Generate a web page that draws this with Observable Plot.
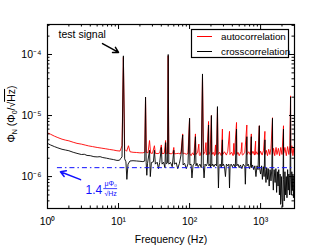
<!DOCTYPE html>
<html><head><meta charset="utf-8">
<script src="https://cdn.jsdelivr.net/npm/d3@7"></script>
<script src="https://cdn.jsdelivr.net/npm/@observablehq/plot@0.6"></script>
<style>
body{margin:0;background:#fff}
svg{font-family:"Liberation Sans",Arial,sans-serif}
</style>
</head><body><div id="chart"></div>
<script>
// [frequency Hz, noise in µΦ0/√Hz]
const autoSpectrum = [
[1,5.2],[1.1,4.95],[1.25,4.6],[1.4,4.35],[1.6,4.1],[1.8,3.95],[2,3.85],[2.3,3.65],[2.6,3.5],[3,3.4],[3.4,3.28],[3.8,3.18],[4.3,3.1],[5,3.0],[5.7,2.93],[6.5,2.86],[7.5,2.78],[8.5,2.72],[9.5,2.65],[10.5,2.62],[11.2,3.2],[11.7,90],[12.2,2.8],[13,2.6],[13.8,3.2],[14.5,2.55],[16,2.5],[18,2.48],[20,2.45],[22,2.45],[23.4,2.5],[24,20],[24.6,2.5],[26,2.45],[27.3,3.9],[28.3,2.42],[30,2.4],[32,3.2],[33,2.4],[36,2.38],[38,2.45],[40,3.3],[41,2.38],[44,2.4],[46,3.9],[47,2.36],[49,2.4],[50,95],[51,2.4],[55,2.36],[58,2.42],[60,3.0],[61,2.35],[65,2.38],[70,2.4],[74,2.34],[76,2.6],[80,5.0],[81,2.35],[85,2.4],[90,2.32],[95,2.4],[100,9],[101,2.35],
[105,2.2],[110,2.45],[115,2.25],[121,5.0],[123,2.3],[130,2.5],[135,3.4],[137,2.3],[140,2.2],[147,2.6],[152,45],[157,2.3],[165,2.55],[170,3.6],[172,2.3],[175,2.25],[185,8],[187,2.3],[195,2.6],[203,10],[206,2.3],[215,2.5],[225,2.2],[232,3.3],[234,2.3],[240,2.6],[247,13],[252,2.3],[265,2.5],[280,2.2],[290,6],[293,2.3],[310,2.55],[330,2.25],[345,2.6],[365,5.5],[370,2.3],[390,2.5],[410,2.2],[420,3.5],[423,2.3],[430,2.5],[458,7.7],[462,2.3],[480,2.5],[500,2.2],[530,2.55],[545,3.6],[548,2.3],[560,2.25],[600,2.5],[640,7],[645,2.3],[680,2.55],[720,2.25],[740,5],[745,2.3],[780,2.6],[820,2.25],[850,3.8],[853,2.3],[870,2.55],[920,2.3],[960,6.8],[965,2.3],[1000,2.6],[1050,2.25],[1100,2.7],[1150,5.5],[1155,2.3],[1200,2.7],[1250,2.2],[1300,2.8],[1350,2.3],[1400,2.9],[1470,9.2],[1475,2.3],[1520,2.9],[1580,2.2],[1650,3.0],[1700,2.3],[1780,2.9],[1850,2.2],[1920,3.0],[2000,2.3],[2100,6.8],[2110,2.4],[2200,3.0],[2300,2.2],[2400,3.1],[2500,2.3],[2580,3.2],[2640,21],[2660,2.4],[2750,3.2],[2850,2.2],[2950,3.0],[3000,2.4]
];
const crossSpectrum = [
[1,3.5],[1.1,3.3],[1.25,3.1],[1.4,2.95],[1.6,2.8],[1.8,2.72],[2,2.65],[2.3,2.5],[2.6,2.4],[3,2.3],[3.3,2.32],[3.6,2.22],[4,2.2],[4.5,2.12],[5,2.1],[5.5,2.12],[6,2.05],[6.8,2.0],[7.5,1.95],[8.5,1.9],[9.5,1.84],[10.3,1.85],[10.8,2.0],[11.2,2.1],[11.7,95],[12.2,1.95],[12.7,1.75],[13.1,0.9],[13.6,1.6],[14.5,1.8],[16,1.82],[18,1.8],[20,1.78],[22,1.76],[23.4,1.8],[24,20],[24.5,1.7],[25,1.05],[25.6,1.65],[27.3,2.7],[28,1.0],[29,1.7],[31,1.75],[32,2.7],[33,1.6],[35,1.72],[36.5,1.35],[38,1.7],[40,3.0],[41,1.6],[43,1.72],[45,1.4],[46,3.6],[47,1.62],[49,1.68],[50,100],[51,1.6],[54,1.7],[57,1.45],[60,2.7],[61,1.6],[65,1.68],[68,1.35],[72,1.65],[76,2.3],[80,4.8],[81,1.55],[85,1.65],[90,1.35],[95,1.62],[100,9],[101,1.55],
[105,1.6],[108,0.95],[112,1.55],[116,1.6],[121,4.5],[123,1.5],[127,1.65],[132,1.45],[140,1.6],[146,1.4],[152,48],[156,1.5],[160,0.95],[165,1.6],[172,1.5],[178,1.65],[185,7],[187,1.5],[193,1.6],[198,1.4],[203,10],[206,1.5],[212,1.6],[220,1.45],[230,1.6],[240,1.5],[247,14],[251,1.5],[255,0.65],[260,1.5],[270,1.6],[280,1.4],[290,4],[293,1.5],[300,1.6],[310,1.45],[320,1.0],[330,1.6],[345,1.5],[358,1.6],[365,0.65],[372,1.5],[385,1.6],[400,1.45],[420,1.6],[440,1.4],[458,6],[462,1.5],[480,1.6],[500,1.4],[520,1.55],[545,1.35],[570,1.6],[600,1.45],[610,0.75],[620,1.5],[640,4.5],[645,1.5],[670,1.6],[700,1.35],[720,1.5],[740,4.5],[745,1.4],[770,1.55],[800,1.3],[830,1.5],[860,1.0],[890,1.5],[920,1.3],[960,6.8],[965,1.4],[1000,1.1],[1030,1.5],[1060,0.9],[1090,1.45],[1120,1.0],[1150,4],[1160,1.3],[1190,0.8],[1220,1.4],[1250,0.9],[1280,1.35],[1320,0.7],[1360,1.3],[1400,0.85],[1440,1.4],[1470,9],[1480,1.1],[1510,0.6],[1550,1.3],[1600,0.8],[1640,1.35],[1680,0.55],[1720,1.2],[1760,0.7],[1800,1.3],[1840,0.5],[1880,1.1],[1920,0.35],[1960,1.0],[2000,0.45],[2050,0.32],[2100,6],[2110,0.9],[2150,0.4],[2200,1.2],[2250,0.5],[2300,1.0],[2350,0.45],[2400,1.3],[2450,0.6],[2500,1.1],[2550,0.5],[2600,1.2],[2640,20],[2660,0.9],[2700,0.5],[2750,1.2],[2800,0.6],[2850,1.1],[2900,0.45],[2950,1.0],[3000,0.7]
];
const noiseFloor = 1.4; // µΦ0/√Hz
const seriesNames = ["autocorrelation", "crosscorrelation"];
const seriesColors = ["#ff0000", "#000000"];
const xMajor = [1, 10, 100, 1000];
const xMajorLabels = ["10\u2070", "10\u00b9", "10\u00b2", "10\u00b3"];
const xMinor = [2,3,4,5,6,7,8,9,20,30,40,50,60,70,80,90,200,300,400,500,600,700,800,900,2000,3000];
const yMajor = [1e-6, 1e-5, 1e-4];
const yMajorLabels = ["10\u207b\u2076", "10\u207b\u2075", "10\u207b\u2074"];
const yMinor = [3e-7,4e-7,5e-7,6e-7,7e-7,8e-7,9e-7,2e-6,3e-6,4e-6,5e-6,6e-6,7e-6,8e-6,9e-6,2e-5,3e-5,4e-5,5e-5,6e-5,7e-5,8e-5,9e-5,2e-4,3e-4];
// annotations in data coordinates
const testSignalLabel = {text: "test signal", f: 1.43, v: 2.1e-4};
const testSignalArrow = {f1: 5.95, v1: 1.51e-4, f2: 10, v2: 1.08e-4};
const floorArrow = {f1: 2.92, v1: 8.9e-7, f2: 1.52, v2: 1.2e-6};
const floorLabel = {text: "1.4", f: 3.43, v: 6.1e-7};
const floorUnitTop = {text: "\u03bc\u03a6\u2080", f: 7.75, v: 7.7e-7};
const floorUnitBottom = {text: "\u221aHz", f: 7.75, v: 5.15e-7};
const floorUnitBar = {f1: 6.2, f2: 9.7, v: 6.35e-7};

const toRows = arr => arr.map(([f, v]) => ({f, v: v * 1e-6}));
const auto = toRows(autoSpectrum), cross = toRows(crossSpectrum);
const blue = "#1010ff";
const font = '"Liberation Sans", Arial, sans-serif';
const W = 326, H = 245, mL = 47, mR = 32, mT = 24, mB = 37;
const innerW = W - mL - mR, innerH = H - mT - mB;
const majLen = 5, minLen = 2.5;

const chart = Plot.plot({
  width: W, height: H,
  marginLeft: mL, marginRight: mR, marginTop: mT, marginBottom: mB,
  style: {fontFamily: font, fontSize: "10px", background: "white", color: "black"},
  x: {type: "log", domain: [1, 3000]},
  y: {type: "log", domain: [3e-7, 3.1e-4]},
  marks: [
    Plot.line(auto, {x: "f", y: "v", stroke: seriesColors[0], strokeWidth: 0.9}),
    Plot.line(cross, {x: "f", y: "v", stroke: seriesColors[1], strokeWidth: 0.9}),
    Plot.ruleY([noiseFloor * 1e-6], {x1: 1.38, x2: 3000, stroke: blue, strokeWidth: 1, strokeDasharray: "5,3,1.5,3"}),
    // inward ticks on all four sides
    Plot.tickX(xMajor, {x: d => d, insetTop: innerH - majLen, stroke: "black"}),
    Plot.tickX(xMinor, {x: d => d, insetTop: innerH - minLen, stroke: "black"}),
    Plot.tickX(xMajor, {x: d => d, insetBottom: innerH - majLen, stroke: "black"}),
    Plot.tickX(xMinor, {x: d => d, insetBottom: innerH - minLen, stroke: "black"}),
    Plot.tickY(yMajor, {y: d => d, insetRight: innerW - majLen, stroke: "black"}),
    Plot.tickY(yMinor, {y: d => d, insetRight: innerW - minLen, stroke: "black"}),
    Plot.tickY(yMajor, {y: d => d, insetLeft: innerW - majLen, stroke: "black"}),
    Plot.tickY(yMinor, {y: d => d, insetLeft: innerW - minLen, stroke: "black"}),
    Plot.frame({stroke: "black", strokeWidth: 1.2}),
    // tick labels
    Plot.axisX(xMajor, {anchor: "bottom", tickSize: 0, tickPadding: 9, fontSize: 10.5, label: null,
      tickFormat: d => xMajorLabels[xMajor.indexOf(d)]}),
    Plot.axisY(yMajor, {anchor: "left", tickSize: 0, tickPadding: 6, fontSize: 10.5, label: null,
      tickFormat: d => yMajorLabels[yMajor.indexOf(d)]}),
    Plot.text(["Frequency (Hz)"], {frameAnchor: "bottom", dy: 27, lineAnchor: "top", fontSize: 10.5}),
    // annotations
    Plot.text([testSignalLabel], {x: "f", y: "v", text: "text", textAnchor: "start", fontSize: 10.5}),
    Plot.arrow([testSignalArrow], {x1: "f1", y1: "v1", x2: "f2", y2: "v2", stroke: "black", strokeWidth: 1.5, headLength: 6}),
    Plot.arrow([floorArrow], {x1: "f1", y1: "v1", x2: "f2", y2: "v2", stroke: blue, strokeWidth: 1.5, headLength: 6}),
    Plot.text([floorLabel], {x: "f", y: "v", text: "text", textAnchor: "start", fill: blue, fontSize: 12}),
    Plot.text([floorUnitTop], {x: "f", y: "v", text: "text", fill: blue, fontSize: 7}),
    Plot.text([floorUnitBottom], {x: "f", y: "v", text: "text", fill: blue, fontSize: 7}),
    Plot.ruleY([floorUnitBar], {x1: "f1", x2: "f2", y: "v", stroke: blue, strokeWidth: 0.8})
  ]
});

const svg = d3.select(chart);
// y-axis title with subscripts
const yl = svg.append("text")
  .attr("transform", "translate(15,114) rotate(-90)")
  .attr("text-anchor", "middle")
  .attr("font-size", 10.5)
  .attr("font-family", font)
  .attr("fill", "black");
yl.append("tspan").text("\u03a6");
yl.append("tspan").attr("font-size", 7).attr("dy", 2).text("N");
yl.append("tspan").attr("dy", -2).text(" (\u03a6");
yl.append("tspan").attr("font-size", 7).attr("dy", 2).text("0");
yl.append("tspan").attr("dy", -2).text("/\u221a");
yl.append("tspan").attr("text-decoration", "overline").text("Hz");
yl.append("tspan").text(")");

// legend
const lg = svg.append("g").attr("font-family", font).attr("font-size", 9.8).attr("text-anchor", "start");
lg.append("rect").attr("x", 191.5).attr("y", 29.5).attr("width", 97).attr("height", 28)
  .attr("fill", "white").attr("stroke", "black").attr("stroke-width", 1.2);
seriesNames.forEach((name, i) => {
  const y = 36.5 + i * 15;
  lg.append("line").attr("x1", 197).attr("x2", 212).attr("y1", y).attr("y2", y)
    .attr("stroke", seriesColors[i]).attr("stroke-width", 1);
  lg.append("text").attr("x", 221).attr("y", y).attr("dy", "0.35em").attr("fill", "black")
    .attr("text-anchor", "start").text(name);
});

document.getElementById("chart").appendChild(chart);
</script>
</body></html>
